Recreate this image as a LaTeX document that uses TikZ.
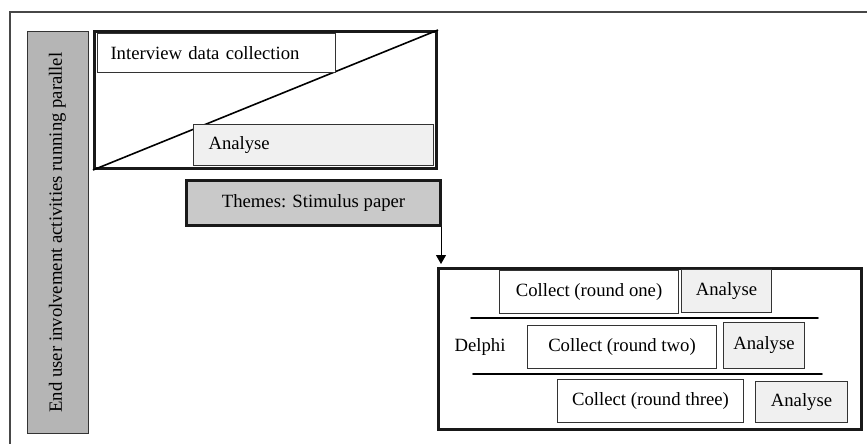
\documentclass[tikz,border=0pt]{standalone}
\usepackage{fontspec}
\setmainfont{Liberation Serif}
\usepackage{tkz-euclide}
\usetikzlibrary{arrows.meta}

\definecolor{barGray}{gray}{0.71}
\definecolor{themeGray}{gray}{0.79}
\definecolor{paleGray}{gray}{0.94}
\definecolor{frameGray}{gray}{0.28}

\tikzset{
  thinbox/.style={draw=black!80, line width=0.5pt, fill=white, anchor=north west,
    inner sep=0pt, font=\fontsize{9.35}{11}\selectfont},
  thickbox/.style={draw=black!90, line width=1.5pt, anchor=north west, inner sep=0pt,
    font=\fontsize{9.35}{11}\selectfont},
  analysebox/.style={thinbox, fill=paleGray},
  lbl/.style={inner sep=0pt, font=\fontsize{9.35}{11}\selectfont}
}

\begin{document}
\begin{tikzpicture}[x=0.5pt,y=-0.5pt]
    \useasboundingbox (0,0) rectangle (867,444);
    % frame, open on the right and below
    \draw[frameGray, line width=1pt] (867,12) -- (10,12) -- (10,444);
    \node[thinbox, anchor=center, fill=barGray, rotate=90, minimum width=200.5pt,
      minimum height=30.5pt] (parallel) at (57.5,232.5)
      {End user involvement activities running parallel};
    % interviews and analysis
    \node[thickbox, fill=white, minimum width=171pt, minimum height=68.5pt] (phase) at (93,30) {};
    \draw[line width=0.8pt] (phase.south west) -- (phase.north east);
    \node[thinbox, minimum width=119pt, minimum height=19.5pt, text width=106pt,
      align=left, inner xsep=6.5pt] (interview) at (97,33) {Interview data collection};
    \node[analysebox, minimum width=120pt, minimum height=20.5pt, text width=105pt,
      align=left, inner xsep=7.5pt] (analyse) at (193,124) {Analyse};
    \node[thickbox, fill=themeGray, minimum width=127pt, minimum height=22.5pt] (themes) at (185,179)
      {Themes: Stimulus paper};
    % Delphi rounds
    \node[thickbox, fill=white, minimum width=211.5pt, minimum height=80.5pt] (delphi) at (437,267) {};
    \coordinate (drop) at ([xshift=-0.5pt]themes.south east);
    \draw[-{Triangle[width=5pt,length=4.5pt]}, line width=0.5pt, shorten >=1.5pt]
      (drop) -- (drop |- delphi.north);
    \tkzDefPoints{471/318/P, 818/318/Q, 473/374/R, 822/374/S}
    \tkzDrawSegments[line width=0.8pt](P,Q R,S)
    \node[lbl] (delphiname) at (480,347) {Delphi};
    \node[thinbox, minimum width=89.5pt, minimum height=21.5pt] (collecta) at (499,270) {Collect (round one)};
    \node[analysebox, minimum width=45pt, minimum height=21.5pt] (analysea) at (681,269) {Analyse};
    \node[thinbox, minimum width=94.5pt, minimum height=21.5pt] (collectb) at (527,325) {Collect (round two)};
    \node[analysebox, minimum width=40.5pt, minimum height=23pt] (analyseb) at (723,322) {Analyse};
    \node[thinbox, minimum width=93pt, minimum height=21.5pt] (collectc) at (557,379) {Collect (round three)};
    \node[analysebox, minimum width=46pt, minimum height=20.5pt] (analysec) at (755,381) {Analyse};
\end{tikzpicture}
\end{document}
